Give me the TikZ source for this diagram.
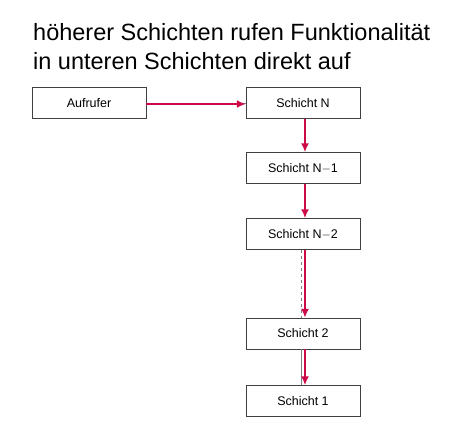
\documentclass[tikz,border=0pt]{standalone}
\usepackage{fontspec}
\setmainfont{Liberation Sans}
\usetikzlibrary{arrows.meta}
\definecolor{callred}{RGB}{205,10,70}

\begin{document}
\begin{tikzpicture}[x=1pt,y=-1pt]
    \tikzstyle{layer}=[draw=black!75,text=black,fill=white,minimum width=114pt,minimum height=31pt,inner sep=0pt,font=\fontsize{12.5}{14}\selectfont]
    \tikzstyle{call} = [draw=callred,line width=2.6pt,-{Latex[length=9pt,width=8pt]}]
    \tikzstyle{shadow} = [draw=black!50,thin]

    \useasboundingbox (0,0) rectangle (472,434);

    \node[anchor=north west,align=left,inner sep=0pt,font=\fontsize{23.5}{29.5}\selectfont] (title) at (33,23)
        {höherer Schichten rufen Funktionalität\\in unteren Schichten direkt auf};

    \node[layer] (caller) at (89,103) {Aufrufer};
    \node[layer] (sN) at (303,103) {Schicht N};
    \node[layer] (sN1) at (303,168) {Schicht N$-$1};
    \node[layer] (sN2) at (303,234) {Schicht N$-$2};
    \node[layer] (s2) at (303,333.5) {Schicht 2};
    \node[layer] (s1) at (303,401) {Schicht 1};

    % gray lines underneath the red calls
    \path[shadow] (caller.east) -- (sN.west);
    \path[shadow,dashed] ([xshift=-1.5pt]sN2.south) -- ([xshift=-1.5pt]s2.north);
    \path[shadow] ([xshift=-1.5pt]s2.south) -- ([xshift=-1.5pt]s1.north);

    \path[call] ([yshift=-1pt]caller.east) -- ([yshift=-1pt]sN.west);
    \path[call] ([xshift=2pt]sN.south) -- ([xshift=2pt]sN1.north);
    \path[call] ([xshift=2pt]sN1.south) -- ([xshift=2pt]sN2.north);
    \path[call] ([xshift=2pt]sN2.south) -- ([xshift=2pt]s2.north);
    \path[call] ([xshift=2pt]s2.south) -- ([xshift=2pt]s1.north);
\end{tikzpicture}
\end{document}
